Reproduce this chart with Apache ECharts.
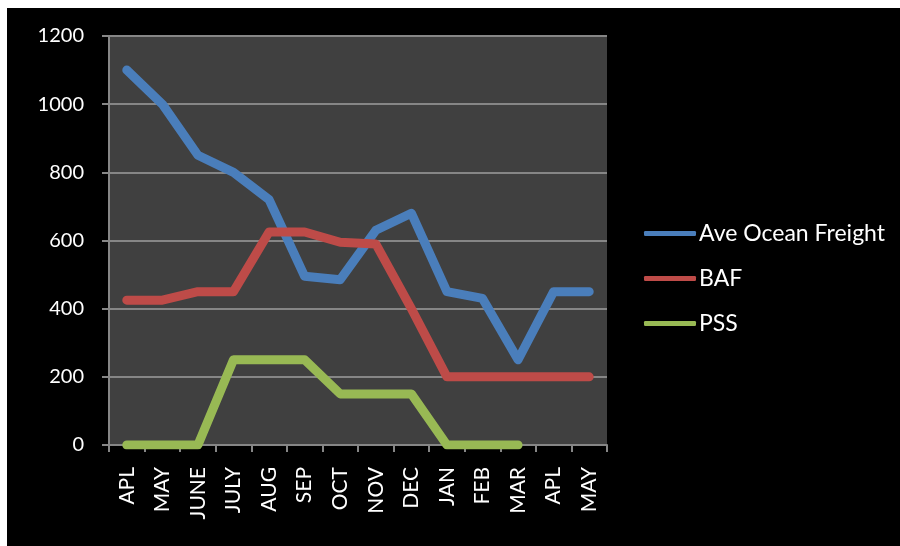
<!DOCTYPE html>
<html><head><meta charset="utf-8">
<script src="https://cdn.jsdelivr.net/npm/echarts@6/dist/echarts.min.js"></script>
<style>html,body{margin:0;padding:0;background:#fff}#c{width:900px;height:546px}</style>
</head><body><div id="c"></div>
<script>
const categories = ['APL','MAY','JUNE','JULY','AUG','SEP','OCT','NOV','DEC','JAN','FEB','MAR','APL','MAY'];
const oceanFreight = [1100,1000,850,800,720,495,485,630,680,450,430,250,450,450];
const baf = [425,425,450,450,625,625,595,590,400,200,200,200,200,200];
const pss = [0,0,0,250,250,250,150,150,150,0,0,0,null,null];
const yTicks = {min:0, max:1200, interval:200};

const font = 'Lato, "Open Sans", sans-serif';
const chart = echarts.init(document.getElementById('c'), null, {renderer:'canvas'});
function line(name, data, color){
  return {name, type:'line', data, symbol:'none', connectNulls:false,
    lineStyle:{width:9, color, cap:'round', join:'round'}, itemStyle:{color}};
}
chart.setOption({
  backgroundColor:'#ffffff',
  animation:false,
  graphic:[{type:'rect', left:7, top:8, shape:{width:893, height:538}, style:{fill:'#000000'}, z:-10}],
  grid:{left:109, right:293, top:36, bottom:101, show:true, backgroundColor:'#404040', borderWidth:0},
  legend:{orient:'vertical', left:639, top:217, itemWidth:52, itemHeight:5, itemGap:22, icon:'roundRect',
    textStyle:{color:'#ffffff', fontSize:23, fontFamily:font, padding:[0,0,0,-2]},
    data:['Ave Ocean Freight','BAF','PSS']},
  xAxis:{type:'category', data:categories, boundaryGap:true,
    axisLine:{lineStyle:{color:'#868686', width:2}},
    axisTick:{show:true, length:7, lineStyle:{color:'#868686', width:2}},
    axisLabel:{rotate:90, color:'#ffffff', fontSize:21, fontFamily:font, margin:22, interval:0},
    splitLine:{show:false}},
  yAxis:{type:'value', min:yTicks.min, max:yTicks.max, interval:yTicks.interval,
    axisLine:{show:true, lineStyle:{color:'#868686', width:2}},
    axisTick:{show:true, length:7, lineStyle:{color:'#868686', width:2}},
    axisLabel:{color:'#ffffff', fontSize:20, fontFamily:font, margin:25, formatter:v=>String(v)},
    splitLine:{show:true, lineStyle:{color:'#868686', width:2}}},
  series:[line('Ave Ocean Freight', oceanFreight, '#4A7EBB'), line('BAF', baf, '#BE4B48'), line('PSS', pss, '#98B954')]
});
</script></body></html>
